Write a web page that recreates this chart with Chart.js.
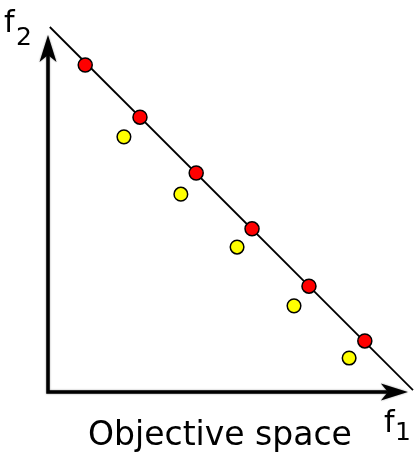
<!doctype html>
<html lang="en">
  <head>
    <meta charset="utf-8">
    <title>Objective space</title>
    <style>
      body { margin: 0; background: #fff; }
      #wrap { width: 414px; height: 453px; position: relative; }
    </style>
  </head>
  <body>
    <div id="wrap">
      <canvas id="myChart"></canvas>
    </div>

    <script src="https://cdn.jsdelivr.net/npm/chart.js"></script>
    <script>
        // Pareto front (red) and dominated solutions (yellow), in f1/f2 units
        const frontF1 = [1.02, 2.52, 4.06, 5.59, 7.15, 8.68];
        const frontF2 = [8.96, 7.53, 6.00, 4.47, 2.90, 1.40];
        const otherF1 = [2.08, 3.64, 5.18, 6.74, 8.25];
        const otherF2 = [6.99, 5.42, 3.97, 2.36, 0.93];
        const lineF1 = [0.05, 10.0];
        const lineF2 = [10.0, 0.05];
        const axisMax = 10;
        const tipF1 = 9.86;
        const tipF2 = 9.78;

        const toPoints = (xs, ys) => xs.map((x, i) => ({ x, y: ys[i] }));

        const arrowHead = (ctx, tipX, tipY, dx, dy) => {
            // dx, dy: unit direction of the arrow
            const len = 27, half = 8.5, notch = 7;
            const bx = tipX - dx * len, by = tipY - dy * len;
            const nx = -dy, ny = dx;
            ctx.beginPath();
            ctx.moveTo(tipX, tipY);
            ctx.lineTo(bx + nx * half, by + ny * half);
            ctx.lineTo(bx + dx * notch, by + dy * notch);
            ctx.lineTo(bx - nx * half, by - ny * half);
            ctx.closePath();
            ctx.fill();
        };

        const axesPlugin = {
            id: 'arrowAxes',
            beforeDatasetsDraw(chart) {
                const { ctx, scales: { x, y } } = chart;
                const x0 = x.getPixelForValue(0);
                const y0 = y.getPixelForValue(0);
                const xt = x.getPixelForValue(tipF1);
                const yt = y.getPixelForValue(tipF2);
                ctx.save();
                ctx.strokeStyle = '#000';
                ctx.fillStyle = '#000';
                ctx.shadowColor = 'rgba(0,0,0,0.45)';
                ctx.shadowBlur = 2;
                ctx.lineWidth = 3.5;
                ctx.lineJoin = 'miter';
                ctx.beginPath();
                ctx.moveTo(x0, yt + 20);
                ctx.lineTo(x0, y0);
                ctx.lineTo(xt - 20, y0);
                ctx.stroke();
                arrowHead(ctx, x0, yt, 0, -1);
                arrowHead(ctx, xt, y0, 1, 0);
                ctx.restore();
            },
            afterDraw(chart) {
                const { ctx } = chart;
                ctx.save();
                ctx.fillStyle = '#000';
                ctx.textBaseline = 'alphabetic';
                ctx.textAlign = 'left';
                ctx.font = '30px "DejaVu Sans"';
                ctx.fillText('f', 4, 32);
                ctx.fillText('f', 384, 432);
                ctx.font = '25px "DejaVu Sans"';
                ctx.fillText('2', 16, 45);
                ctx.fillText('1', 395, 440);
                ctx.textAlign = 'center';
                ctx.font = '33px "DejaVu Sans"';
                ctx.fillText('Objective space', 220, 445);
                ctx.restore();
            }
        };

        const data = {
            datasets: [
                {
                    type: 'line',
                    label: 'front',
                    data: toPoints(lineF1, lineF2),
                    borderColor: '#000',
                    borderWidth: 1.8,
                    pointRadius: 0,
                    fill: false,
                    clip: false,
                    order: 3
                },
                {
                    label: 'Pareto optimal',
                    data: toPoints(frontF1, frontF2),
                    backgroundColor: '#ff0000',
                    borderColor: '#000',
                    borderWidth: 1.5,
                    pointRadius: 7,
                    clip: false,
                    order: 1
                },
                {
                    label: 'Dominated',
                    data: toPoints(otherF1, otherF2),
                    backgroundColor: '#ffff00',
                    borderColor: '#000',
                    borderWidth: 1.5,
                    pointRadius: 6.8,
                    clip: false,
                    order: 2
                }
            ]
        };

        const config = {
            type: 'scatter',
            data,
            plugins: [axesPlugin],
            options: {
                responsive: true,
                maintainAspectRatio: false,
                animation: false,
                events: [],
                layout: {
                    autoPadding: false,
                    padding: { left: 48, right: 1, top: 27, bottom: 61 }
                },
                plugins: {
                    legend: { display: false },
                    tooltip: { enabled: false }
                },
                scales: {
                    x: { type: 'linear', min: 0, max: axisMax, display: false },
                    y: { type: 'linear', min: 0, max: axisMax, display: false }
                }
            }
        };

        new Chart(document.getElementById('myChart'), config);
    </script>
  </body>
</html>
